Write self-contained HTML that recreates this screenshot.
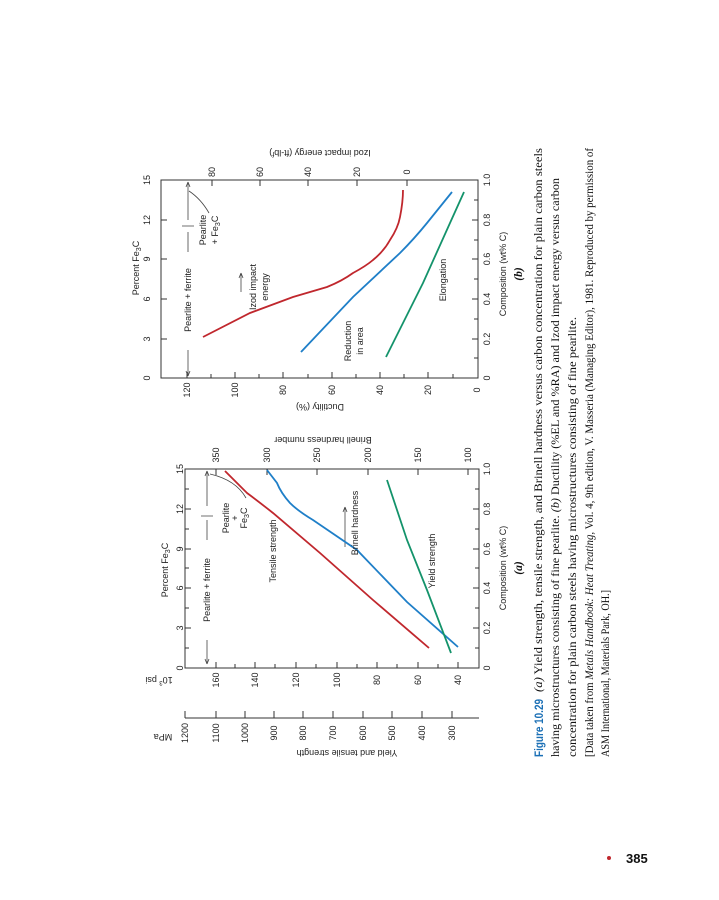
<!DOCTYPE html>
<html><head><meta charset="utf-8"><style>
html,body{margin:0;padding:0;background:#fff;}
svg{display:block;}
.s{font-family:"Liberation Sans",sans-serif;font-size:9px;fill:#222;}
.c{font-family:"Liberation Serif",serif;font-size:11.5px;fill:#111;}
</style></head><body>
<svg width="719" height="900" viewBox="0 0 719 900" xmlns="http://www.w3.org/2000/svg">
<g fill="none" stroke="#333" stroke-width="1">
<rect x="185" y="469" width="294" height="199"/>
<path d="M479 668h-6M479 648h-4M479 628h-6M479 608h-4M479 588h-6M479 568h-4M479 549h-6M479 529h-4M479 509h-6M479 489h-4M479 469h-6"/>
<path d="M185 628h6M185 588h6M185 549h6M185 509h6M185 608h4M185 568h4M185 529h4M185 489h4M185 648h4"/>
<path d="M216 668v-6M235 668v-4M255 668v-6M275 668v-4M296 668v-6M316 668v-4M337 668v-6M357 668v-4M377 668v-6M397 668v-4M418 668v-6M438 668v-4M458 668v-6"/>
<path d="M216 469v6M267 469v6M317 469v6M368 469v6M418 469v6M468 469v6"/>
<path d="M185 718h294M185 718v-7M216 718v-7M245 718v-7M274 718v-7M303 718v-7M333 718v-7M363 718v-7M392 718v-7M422 718v-7M452 718v-7"/>
<rect x="161" y="180" width="317" height="198"/>
<path d="M478 378h-6M478 358h-4M478 339h-6M478 319h-4M478 299h-6M478 279h-4M478 259h-6M478 240h-4M478 220h-6M478 200h-4M478 180h-6"/>
<path d="M161 339h6M161 299h6M161 259h6M161 220h6"/>
<path d="M187 378v-6M211 378v-4M235 378v-6M259 378v-4M283 378v-6M308 378v-4M332 378v-6M356 378v-4M380 378v-6M404 378v-4M428 378v-6M453 378v-4"/>
<path d="M212 180v6M260 180v6M308 180v6M357 180v6M407 180v6"/>
</g>
<g stroke="#444" stroke-width="0.8" fill="none">
<path d="M207 471v35M207 520v20M207 640v24M201 516h12"/>
<path d="M207 471l-2 5M207 471l2 5M207 664l-2-5M207 664l2-5"/>
<path d="M246 498q-10-18-36-24"/>
<path d="M345 547v-40M345 507l-2 5M345 507l2 5"/>
<path d="M188 182v38M188 232v20M188 350v26M182 226h12"/>
<path d="M188 182l-2 5M188 182l2 5M188 376l-2-5M188 376l2-5"/>
<path d="M209 213q-8-14-20-22"/>
<path d="M241 292v-19M241 273l-2 5M241 273l2 5"/>
</g>
<g fill="none" stroke-width="1.8">
<path stroke="#c0272d" d="M429 648L373 600L320 553L273 513Q258 501 247 493L225 471"/>
<path stroke="#1f7fc8" d="M458 647L407 602L357 550L313 520Q298 511 290 503Q281 493 277 483L267 470"/>
<path stroke="#14936b" d="M451 653L427 590L407 540L387 480"/>
<path stroke="#c0272d" d="M203 337L250 313L293 297L327 287Q342 281 353 273Q366 266 373 260Q384 251 390 240Q398 228 400 217Q403 202 403 190"/>
<path stroke="#1f7fc8" d="M301 352L353 297L400 253Q414 239 427 223L452 192"/>
<path stroke="#14936b" d="M386 357L423 283L450 223L464 192"/>
</g>
<g class="s">
<g text-anchor="middle">
<text transform="translate(183,668) rotate(-90)">0</text>
<text transform="translate(183,628) rotate(-90)">3</text>
<text transform="translate(183,588) rotate(-90)">6</text>
<text transform="translate(183,549) rotate(-90)">9</text>
<text transform="translate(183,509) rotate(-90)">12</text>
<text transform="translate(183,469) rotate(-90)">15</text>
<text transform="translate(490,668) rotate(-90)">0</text>
<text transform="translate(490,628) rotate(-90)">0.2</text>
<text transform="translate(490,588) rotate(-90)">0.4</text>
<text transform="translate(490,549) rotate(-90)">0.6</text>
<text transform="translate(490,509) rotate(-90)">0.8</text>
<text transform="translate(490,469) rotate(-90)">1.0</text>
<text transform="translate(219,680) rotate(-90)">160</text>
<text transform="translate(258,680) rotate(-90)">140</text>
<text transform="translate(299,680) rotate(-90)">120</text>
<text transform="translate(340,680) rotate(-90)">100</text>
<text transform="translate(380,680) rotate(-90)">80</text>
<text transform="translate(421,680) rotate(-90)">60</text>
<text transform="translate(461,680) rotate(-90)">40</text>
<text transform="translate(219,455) rotate(-90)">350</text>
<text transform="translate(270,455) rotate(-90)">300</text>
<text transform="translate(320,455) rotate(-90)">250</text>
<text transform="translate(371,455) rotate(-90)">200</text>
<text transform="translate(421,455) rotate(-90)">150</text>
<text transform="translate(471,455) rotate(-90)">100</text>
<text transform="translate(188,733) rotate(-90)">1200</text>
<text transform="translate(219,733) rotate(-90)">1100</text>
<text transform="translate(248,733) rotate(-90)">1000</text>
<text transform="translate(277,733) rotate(-90)">900</text>
<text transform="translate(306,733) rotate(-90)">800</text>
<text transform="translate(336,733) rotate(-90)">700</text>
<text transform="translate(366,733) rotate(-90)">600</text>
<text transform="translate(395,733) rotate(-90)">500</text>
<text transform="translate(425,733) rotate(-90)">400</text>
<text transform="translate(455,733) rotate(-90)">300</text>
<text transform="translate(168,570) rotate(-90)">Percent Fe<tspan font-size="7" dy="2">3</tspan><tspan dy="-2">C</tspan></text>
<text transform="translate(210,590) rotate(-90)">Pearlite + ferrite</text>
<text transform="translate(229,518) rotate(-90)">Pearlite</text>
<text transform="translate(238,518) rotate(-90)">+</text>
<text transform="translate(247,518) rotate(-90)">Fe<tspan font-size="7" dy="2">3</tspan><tspan dy="-2">C</tspan></text>
<text transform="translate(276,551) rotate(-90)">Tensile strength</text>
<text transform="translate(358,523) rotate(-90)">Brinell hardness</text>
<text transform="translate(435,561) rotate(-90)">Yield strength</text>
<text transform="translate(323,437) rotate(180)">Brinell hardness number</text>
<text transform="translate(347,750) rotate(180)">Yield and tensile strength</text>
<text transform="translate(506,568) rotate(-90)">Composition (wt% C)</text>
<text transform="translate(506,274) rotate(-90)">Composition (wt% C)</text>
<text transform="translate(150,378) rotate(-90)">0</text>
<text transform="translate(150,339) rotate(-90)">3</text>
<text transform="translate(150,299) rotate(-90)">6</text>
<text transform="translate(150,259) rotate(-90)">9</text>
<text transform="translate(150,220) rotate(-90)">12</text>
<text transform="translate(150,180) rotate(-90)">15</text>
<text transform="translate(139,268) rotate(-90)">Percent Fe<tspan font-size="7" dy="2">3</tspan><tspan dy="-2">C</tspan></text>
<text transform="translate(490,378) rotate(-90)">0</text>
<text transform="translate(490,339) rotate(-90)">0.2</text>
<text transform="translate(490,299) rotate(-90)">0.4</text>
<text transform="translate(490,259) rotate(-90)">0.6</text>
<text transform="translate(490,220) rotate(-90)">0.8</text>
<text transform="translate(490,180) rotate(-90)">1.0</text>
<text transform="translate(190,390) rotate(-90)">120</text>
<text transform="translate(238,390) rotate(-90)">100</text>
<text transform="translate(286,390) rotate(-90)">80</text>
<text transform="translate(335,390) rotate(-90)">60</text>
<text transform="translate(383,390) rotate(-90)">40</text>
<text transform="translate(431,390) rotate(-90)">20</text>
<text transform="translate(480,390) rotate(-90)">0</text>
<text transform="translate(215,172) rotate(-90)">80</text>
<text transform="translate(263,172) rotate(-90)">60</text>
<text transform="translate(311,172) rotate(-90)">40</text>
<text transform="translate(360,172) rotate(-90)">20</text>
<text transform="translate(410,172) rotate(-90)">0</text>
<text transform="translate(320,404) rotate(180)">Ductility (%)</text>
<text transform="translate(320,150) rotate(180)">Izod impact energy (ft-lb<tspan font-size="7" dy="-2">f</tspan><tspan dy="2">)</tspan></text>
<text transform="translate(191,300) rotate(-90)">Pearlite + ferrite</text>
<text transform="translate(206,230) rotate(-90)">Pearlite</text>
<text transform="translate(218,230) rotate(-90)">+ Fe<tspan font-size="7" dy="2">3</tspan><tspan dy="-2">C</tspan></text>
<text transform="translate(256,287) rotate(-90)">Izod impact</text>
<text transform="translate(268,287) rotate(-90)">energy</text>
<text transform="translate(351,341) rotate(-90)">Reduction</text>
<text transform="translate(363,341) rotate(-90)">in area</text>
<text transform="translate(446,280) rotate(-90)">Elongation</text>
<text transform="translate(159,677) rotate(180)">10<tspan font-size="6" dy="-4">3</tspan><tspan dy="4"> psi</tspan></text>
<text transform="translate(163,734) rotate(180)">MPa</text>
</g>
</g>
<g class="c" text-anchor="middle" font-weight="bold" font-style="italic">
<text transform="translate(522,568) rotate(-90)">(a)</text>
<text transform="translate(522,274) rotate(-90)">(b)</text>
</g>
<g class="c">
<text transform="translate(543,757) rotate(-90)" font-family="Liberation Sans, sans-serif" font-weight="bold" fill="#1a6fb5" font-size="12" textLength="58" lengthAdjust="spacingAndGlyphs">Figure 10.29</text>
<text transform="translate(542,692) rotate(-90)" textLength="544" lengthAdjust="spacingAndGlyphs"><tspan font-style="italic">(a)</tspan> Yield strength, tensile strength, and Brinell hardness versus carbon concentration for plain carbon steels</text>
<text transform="translate(559,757) rotate(-90)" textLength="579" lengthAdjust="spacingAndGlyphs">having microstructures consisting of fine pearlite. <tspan font-style="italic">(b)</tspan> Ductility (%EL and %RA) and Izod impact energy versus carbon</text>
<text transform="translate(576,757) rotate(-90)" textLength="440" lengthAdjust="spacingAndGlyphs">concentration for plain carbon steels having microstructures consisting of fine pearlite.</text>
<text transform="translate(593,757) rotate(-90)" textLength="609" lengthAdjust="spacingAndGlyphs">[Data taken from <tspan font-style="italic">Metals Handbook: Heat Treating,</tspan> Vol. 4, 9th edition, V. Masseria (Managing Editor), 1981. Reproduced by permission of</text>
<text transform="translate(609,757) rotate(-90)" textLength="167" lengthAdjust="spacingAndGlyphs">ASM International, Materials Park, OH.]</text>
</g>
<circle cx="609" cy="858" r="2" fill="#c0272d"/>
<text x="626" y="863" font-family="Liberation Sans, sans-serif" font-weight="bold" font-size="13" fill="#111">385</text>
</svg>
</body></html>
